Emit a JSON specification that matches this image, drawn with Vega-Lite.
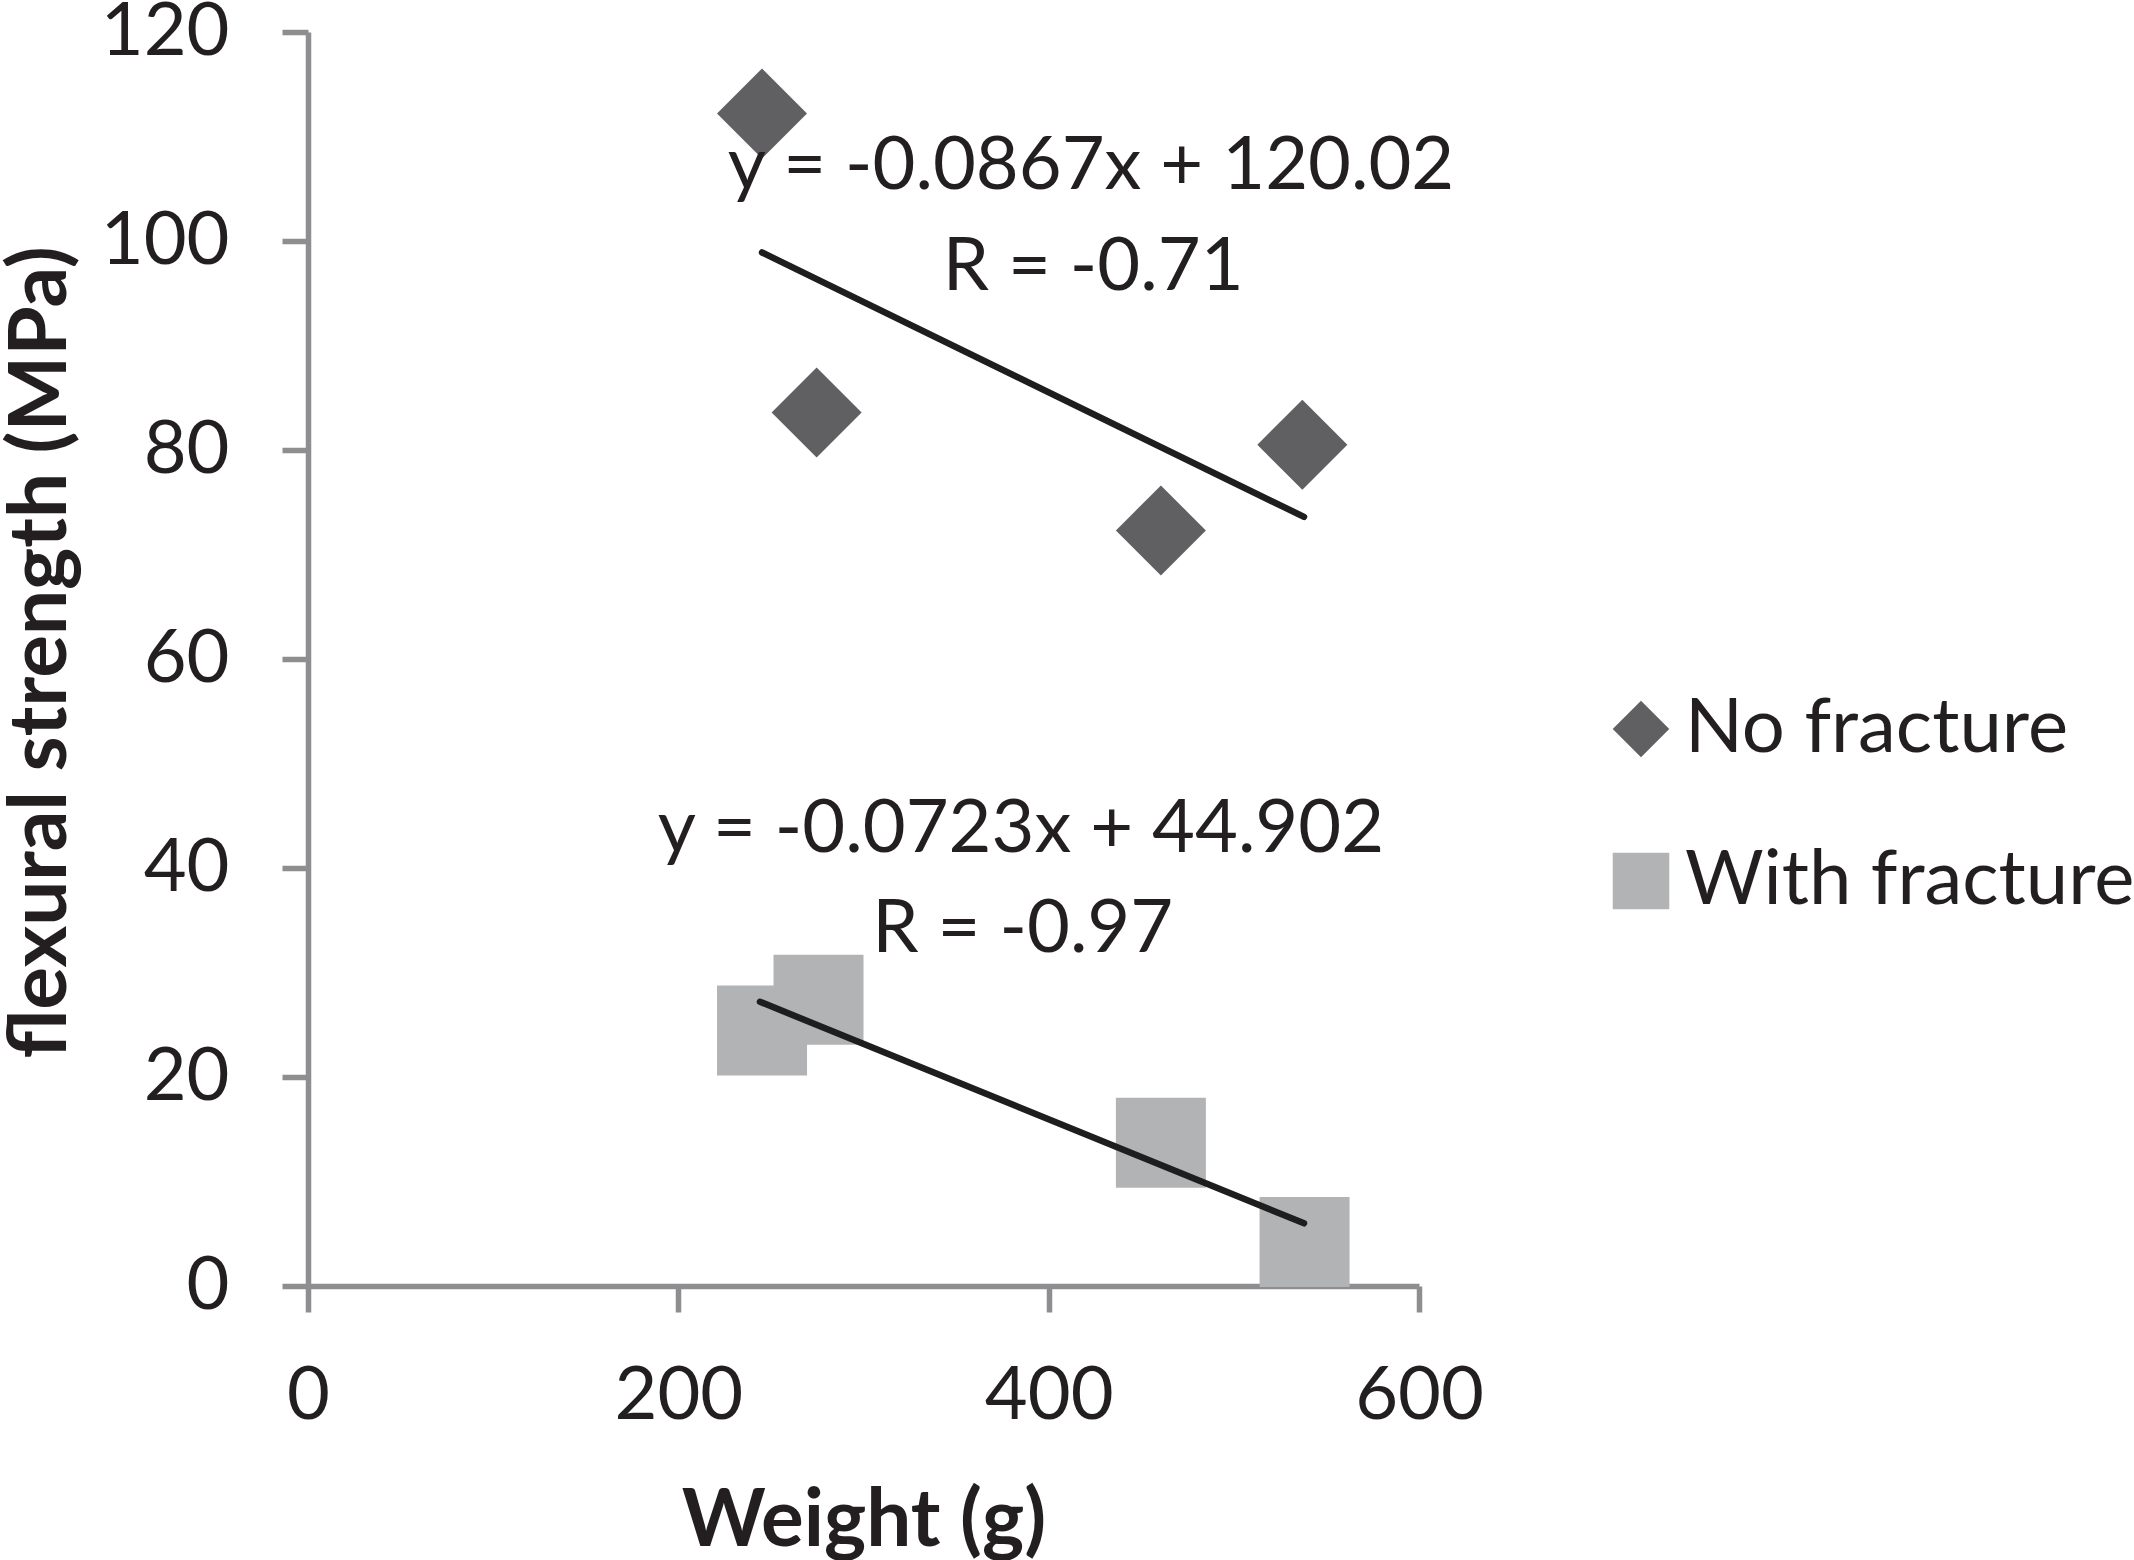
{
  "$schema": "https://vega.github.io/schema/vega-lite/v6.json",
  "description": "Flexural strength vs weight, with and without fracture, with linear trend lines",
  "autosize": {"type": "none"},
  "padding": {"left": 308, "top": 32, "right": 715, "bottom": 274},
  "width": 1111,
  "height": 1254,
  "background": "white",
  "datasets": {
    "points": [
      {"series": "No fracture", "weight": 245.2, "strength": 112.2},
      {"series": "No fracture", "weight": 274.7, "strength": 83.6},
      {"series": "No fracture", "weight": 460.6, "strength": 72.3},
      {"series": "No fracture", "weight": 537.0, "strength": 80.5},
      {"series": "With fracture", "weight": 245.2, "strength": 24.45},
      {"series": "With fracture", "weight": 275.7, "strength": 27.4},
      {"series": "With fracture", "weight": 460.6, "strength": 13.7},
      {"series": "With fracture", "weight": 538.2, "strength": 4.2}
    ],
    "trend": [
      {"series": "No fracture", "weight": 245.2, "strength": 98.9},
      {"series": "No fracture", "weight": 537.9, "strength": 73.6},
      {"series": "With fracture", "weight": 244.1, "strength": 27.2},
      {"series": "With fracture", "weight": 537.9, "strength": 6.0}
    ],
    "notes": [
      {"weight": 422.9, "strength": 107.1, "label": "y = -0.0867x + 120.02"},
      {"weight": 424.0, "strength": 97.4, "label": "R = -0.71"},
      {"weight": 385.0, "strength": 43.6, "label": "y = -0.0723x + 44.902"},
      {"weight": 386.0, "strength": 34.1, "label": "R = -0.97"}
    ]
  },
  "encoding": {
    "x": {
      "field": "weight",
      "type": "quantitative",
      "scale": {"domain": [0, 600], "nice": false, "zero": false},
      "axis": {
        "title": "Weight (g)",
        "values": [0, 200, 400, 600],
        "grid": false,
        "tickSize": 26,
        "labelPadding": 48,
        "labelFlush": false,
        "titleBaseline": "alphabetic",
        "titleY": 259
      }
    },
    "y": {
      "field": "strength",
      "type": "quantitative",
      "scale": {"domain": [0, 120], "nice": false, "zero": false},
      "axis": {
        "title": "flexural strength (MPa)",
        "values": [0, 20, 40, 60, 80, 100, 120],
        "grid": false,
        "tickSize": 26,
        "labelPadding": 53,
        "labelFlush": false,
        "titleAngle": 270,
        "titleBaseline": "alphabetic",
        "titleAlign": "center",
        "titleX": -243,
        "titleY": 620
      }
    }
  },
  "layer": [
    {
      "data": {"name": "points"},
      "mark": {"type": "point", "filled": true, "size": 8100, "opacity": 1, "strokeWidth": 0},
      "encoding": {
        "color": {
          "field": "series",
          "type": "nominal",
          "scale": {"domain": ["No fracture", "With fracture"], "range": ["#606062", "#b2b3b5"]},
          "legend": {"title": null}
        },
        "shape": {
          "field": "series",
          "type": "nominal",
          "scale": {"domain": ["No fracture", "With fracture"], "range": ["diamond", "square"]},
          "legend": {"title": null}
        }
      }
    },
    {
      "data": {"name": "trend"},
      "mark": {"type": "line", "color": "#1e1e1e", "strokeWidth": 6.5, "strokeCap": "round"},
      "encoding": {
        "detail": {"field": "series", "type": "nominal"}
      }
    },
    {
      "data": {"name": "notes"},
      "mark": {"type": "text", "font": "Lato", "fontSize": 74, "color": "#231f20", "align": "center", "baseline": "middle"},
      "encoding": {
        "text": {"field": "label", "type": "nominal"}
      }
    }
  ],
  "config": {
    "view": {"stroke": null},
    "axis": {
      "domainColor": "#8e8e90",
      "domainWidth": 5.5,
      "tickColor": "#8e8e90",
      "tickWidth": 5.5,
      "labelFont": "Lato",
      "labelFontSize": 74,
      "labelColor": "#231f20",
      "titleFont": "Lato",
      "titleFontSize": 80,
      "titleFontWeight": "bold",
      "titleColor": "#231f20"
    },
    "legend": {
      "orient": "none",
      "legendX": 1295,
      "legendY": 659,
      "padding": 0,
      "labelFont": "Lato",
      "labelFontSize": 76,
      "labelColor": "#231f20",
      "labelOffset": 6,
      "labelLimit": 1000,
      "symbolSize": 3200,
      "symbolStrokeWidth": 0,
      "rowPadding": 76
    }
  }
}
